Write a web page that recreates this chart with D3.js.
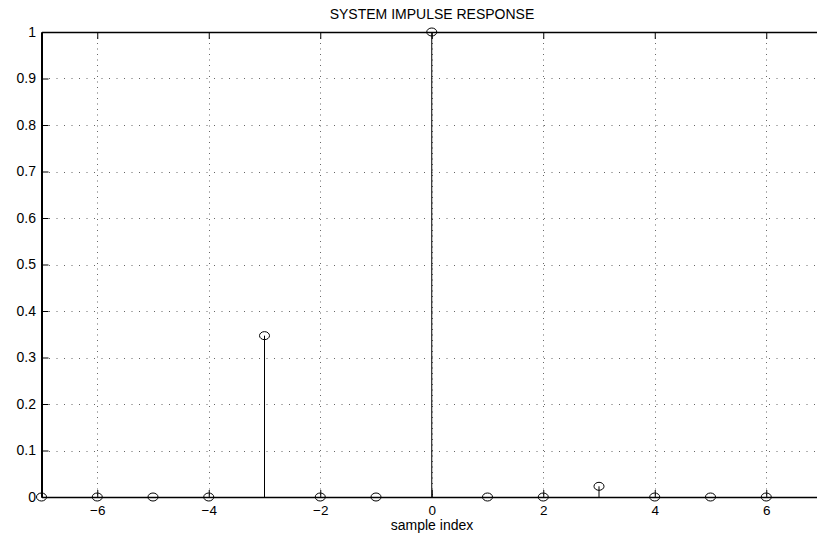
<!DOCTYPE html>
<html>
<head>
<meta charset="utf-8">
<script src="https://cdn.jsdelivr.net/npm/d3@7"></script>
<style>
  body { margin: 0; background: #fff; }
  svg { display: block; font-family: "Liberation Sans", Arial, sans-serif; }
</style>
</head>
<body>
<div id="chart"></div>
<script>
// sample index and impulse response values
var n = [-7, -6, -5, -4, -3, -2, -1, 0, 1, 2, 3, 4, 5, 6];
var h = [0, 0, 0, 0, 0.347, 0, 0, 1, 0, 0, 0.023, 0, 0, 0];
var xTicks = [-6, -4, -2, 0, 2, 4, 6];
var yTicks = [0, 0.1, 0.2, 0.3, 0.4, 0.5, 0.6, 0.7, 0.8, 0.9, 1];

var W = 817, H = 533;
var pLeft = 41.5, pTop = 32, pBottom = 497, pRight = 822;
var fs = 14;

var svg = d3.select("#chart").append("svg")
  .attr("width", W).attr("height", H);

var x = d3.scaleLinear().domain([-7, 7]).range([pLeft, pRight]);
var y = d3.scaleLinear().domain([0, 1]).range([pBottom, pTop]);

/* grid */
var grid = svg.append("g");
grid.selectAll(".gx").data(xTicks).enter().append("line")
  .attr("x1", function(d){ return Math.round(x(d)) + 0.5; })
  .attr("x2", function(d){ return Math.round(x(d)) + 0.5; })
  .attr("y1", pTop).attr("y2", pBottom)
  .attr("stroke", "#666").attr("stroke-dasharray", "1,4.5");
grid.selectAll(".gy").data(yTicks.slice(1, -1)).enter().append("line")
  .attr("y1", function(d){ return Math.round(y(d)) + 0.5; })
  .attr("y2", function(d){ return Math.round(y(d)) + 0.5; })
  .attr("x1", pLeft).attr("x2", pRight)
  .attr("stroke", "#666").attr("stroke-dasharray", "1,6.5");

/* axes with inward ticks */
var fmtX = function(d){ return d < 0 ? "\u2212" + Math.abs(d) : d; };
var xAxis = svg.append("g").attr("transform", "translate(0," + pBottom + ")")
  .call(d3.axisBottom(x).tickValues(xTicks).tickSizeInner(-7).tickSizeOuter(0).tickPadding(8).tickFormat(fmtX));
var xTop = svg.append("g").attr("transform", "translate(0," + pTop + ")")
  .call(d3.axisTop(x).tickValues(xTicks).tickSizeInner(-7).tickSizeOuter(0).tickFormat(""));
var yAxis = svg.append("g").attr("transform", "translate(" + pLeft + ",0)")
  .call(d3.axisLeft(y).tickValues(yTicks).tickSizeInner(-7).tickSizeOuter(0).tickPadding(5.5).tickFormat(d3.format("")));

[xAxis, xTop, yAxis].forEach(function(g){
  g.selectAll("path").attr("stroke", "#000").attr("stroke-width", 1.5);
  g.selectAll("line").attr("stroke", "#000");
  g.selectAll("text").attr("fill", "#000").attr("font-size", fs)
    .attr("font-family", "'Liberation Sans', Arial, sans-serif");
});
xAxis.selectAll("text").attr("font-size", 13.5);
yAxis.select("path").attr("stroke-width", 2);

/* stems */
var stems = svg.append("g");
stems.selectAll("line").data(n).enter().append("line")
  .attr("x1", function(d){ return x(d); })
  .attr("x2", function(d){ return x(d); })
  .attr("y1", y(0))
  .attr("y2", function(d, i){ return y(h[i]); })
  .attr("stroke", "#000").attr("stroke-width", 1);
stems.selectAll("ellipse").data(n).enter().append("ellipse")
  .attr("cx", function(d){ return x(d); })
  .attr("cy", function(d, i){ return y(h[i]); })
  .attr("rx", 5).attr("ry", 4)
  .attr("fill", "none").attr("stroke", "#000").attr("stroke-width", 1);

/* labels */
svg.append("text").attr("x", 432).attr("y", 19)
  .attr("text-anchor", "middle").attr("font-size", fs)
  .text("SYSTEM IMPULSE RESPONSE");
svg.append("text").attr("x", 432).attr("y", 530)
  .attr("text-anchor", "middle").attr("font-size", fs)
  .text("sample index");
</script>
</body>
</html>
